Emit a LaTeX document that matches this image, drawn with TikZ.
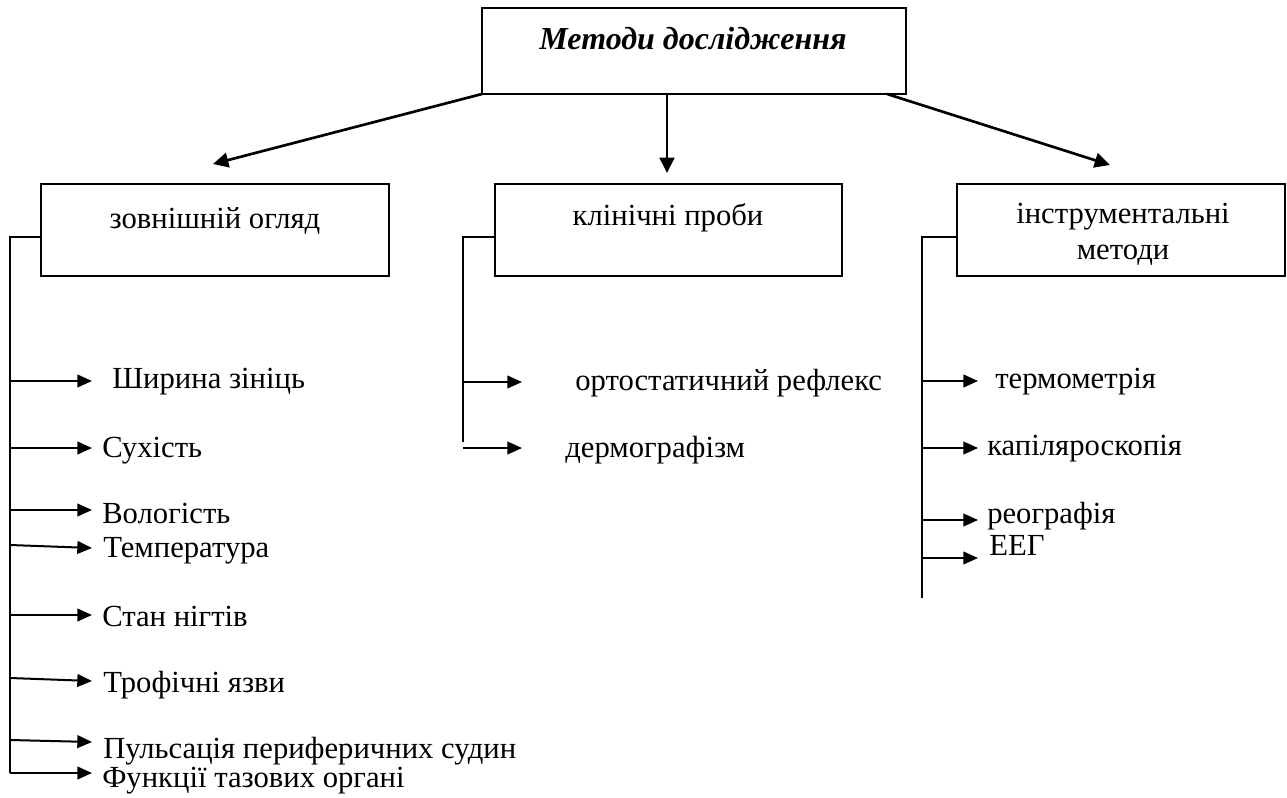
\documentclass[tikz,border=0pt]{standalone}
\usepackage{fontspec}
\setmainfont{Liberation Serif}
\usetikzlibrary{arrows.meta}
\begin{document}
\begin{tikzpicture}[x=0.75pt,y=-0.75pt,
  frame/.style={draw,line width=1.5pt,inner sep=0pt,outer sep=0pt},
  lbl/.style={inner sep=0pt,font=\fontsize{23}{28}\selectfont},
  item/.style={lbl,anchor=base west},
  rail/.style={line width=1.5pt},
  leaf/.style={line width=1.5pt,-{Triangle[length=11pt,width=9.5pt]}},
  main/.style={line width=2pt,-{Triangle[length=11.5pt,width=11pt]}}]
\useasboundingbox (0,0) rectangle (1287,798);

% boxes
\node[frame,minimum width=318pt,minimum height=64.5pt] (top) at (694,51) {};
\node[frame,minimum width=261pt,minimum height=69pt] (ext) at (215,230) {};
\node[frame,minimum width=260.25pt,minimum height=69pt] (cli) at (668.5,230) {};
\node[frame,minimum width=246pt,minimum height=69pt] (ins) at (1121,230) {};

% box captions
\node[lbl,anchor=base,font=\fontsize{24}{28}\selectfont\bfseries\itshape] (topt) at (693,50) {Методи дослідження};
\node[lbl,anchor=base] (extt) at (215,229) {зовнішній огляд};
\node[lbl,anchor=base] (clit) at (668,226) {клінічні проби};
\node[lbl,anchor=base] (inst1) at (1123,224) {інструментальні};
\node[lbl,anchor=base] (inst2) at (1123,260) {методи};

% main arrows
\coordinate (tipL) at (213,164);
\coordinate (midS) at (667,94);
\coordinate (tipM) at (667,173);
\coordinate (rS) at (887,94);
\coordinate (tipR) at (1110,165);
\draw[main] (top.south west) -- (tipL);
\draw[main] (midS) -- (tipM);
\draw[main] (rS) -- (tipR);

% left column
\coordinate (eb) at (ext.west |- 0,237);
\coordinate (ec) at (10,237);
\coordinate (ee) at (10,773);
\draw[rail] (eb) -- (ec) -- (ee);
\node[item] (e1) at (112,388) {Ширина зініць};
\node[item] (e2) at (102,457) {Сухість};
\node[item] (e3) at (102,523) {Вологість};
\node[item] (e4) at (103,557) {Температура};
\node[item] (e5) at (102,626) {Стан нігтів};
\node[item] (e6) at (103,692) {Трофічні язви};
\node[item] (e7) at (103,758) {Пульсація периферичних судин};
\node[item] (e8) at (102,787) {Функції тазових органі};
\draw[leaf] (10,381) -- (92,381);
\draw[leaf] (10,448) -- (92,448);
\draw[leaf] (10,510) -- (92,510);
\draw[leaf] (10,545) -- (92,548);
\draw[leaf] (10,615) -- (92,615);
\draw[leaf] (10,678) -- (92,681);
\draw[leaf] (10,740) -- (92,742);
\draw[leaf] (ee) -- (92,773);

% middle column
\coordinate (cb) at (cli.west |- 0,237);
\coordinate (cc) at (463,237);
\coordinate (ce) at (463,442);
\draw[rail] (cb) -- (cc) -- (ce);
\node[item] (c1) at (575,390) {ортостатичний рефлекс};
\node[item] (c2) at (565,457) {дермографізм};
\draw[leaf] (463,382) -- (522,382);
\draw[leaf] (463,448) -- (522,448);

% right column
\coordinate (ib) at (ins.west |- 0,237);
\coordinate (ic) at (922,237);
\coordinate (ie) at (922,598);
\draw[rail] (ib) -- (ic) -- (ie);
\node[item] (i1) at (995,388) {термометрія};
\node[item] (i2) at (987,455) {капіляроскопія};
\node[item] (i3) at (987,523) {реографія};
\node[item] (i4) at (989,555) {ЕЕГ};
\draw[leaf] (922,381) -- (978,381);
\draw[leaf] (922,448) -- (978,448);
\draw[leaf] (922,520) -- (978,520);
\draw[leaf] (922,558) -- (978,558);
\end{tikzpicture}
\end{document}
